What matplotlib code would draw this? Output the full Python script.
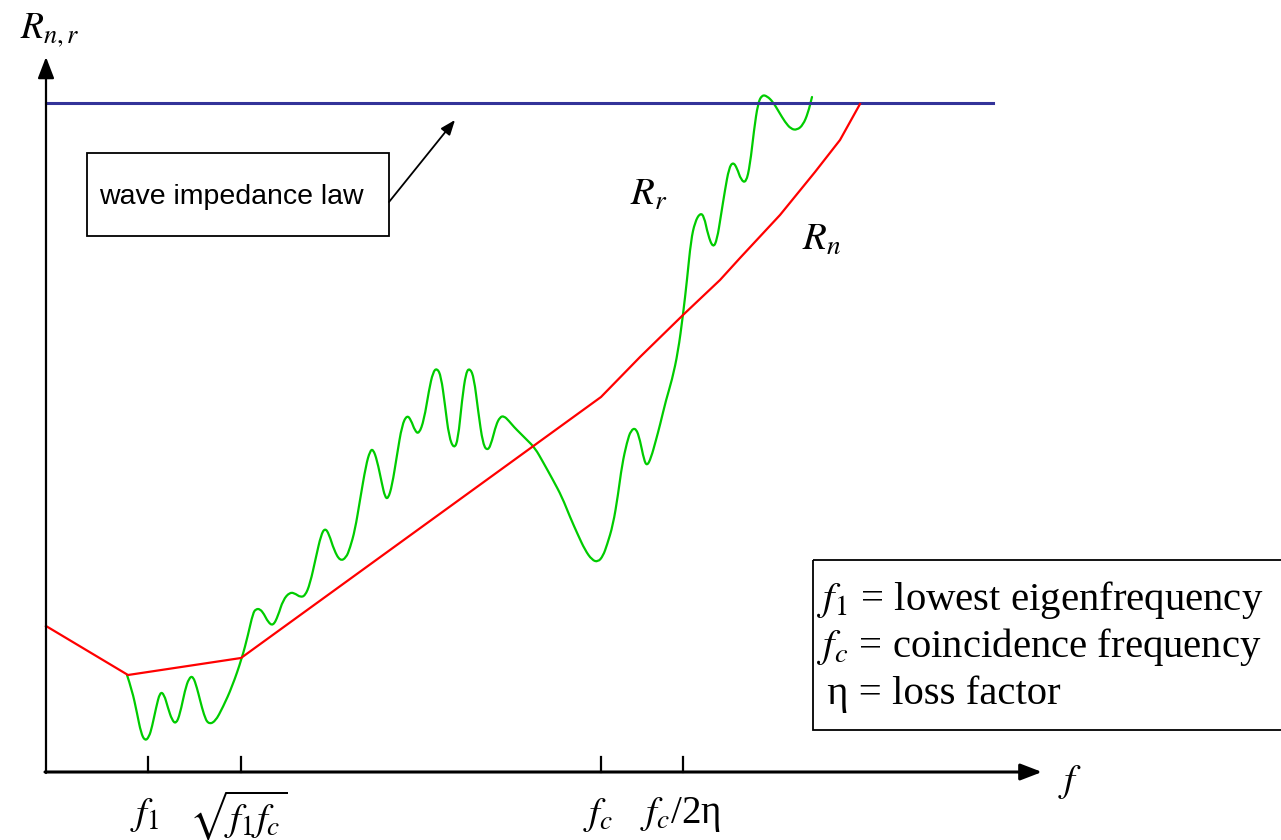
import matplotlib.pyplot as plt
from matplotlib.path import Path
from matplotlib.patches import PathPatch

plt.rcParams['mathtext.fontset'] = 'stix'
plt.rcParams['font.family'] = ['Liberation Serif', 'DejaVu Sans']

# picture coordinates (x to the right, y downward)
axis_origin = (46, 772)
x_axis_end = 1042
y_axis_end = 57
wave_level = 103
wave_x = [46, 993]

tick_x = [148, 241, 601, 683]
tick_labels = [r'$f_1$', r'$\sqrt{f_1 f_c}$', r'$f_c$', r'$f_c$/2η']

# R_n (red)
rn_x = [46, 128, 241, 601, 640, 683, 720, 740, 780, 815, 840, 860]
rn_y = [626, 675, 658, 397, 357, 315, 280, 258, 215, 172, 140, 104]

# R_r (green)
rr_x = [127, 132, 137, 141, 145, 149, 152, 156, 160, 164, 168, 172, 176, 180,
        185, 189, 193, 197, 200, 204, 208, 215, 223, 232, 242, 248, 253, 256,
        260, 264, 268, 273, 278, 283, 290, 296, 300, 305, 310, 316, 321, 325,
        329, 334, 340, 346, 350, 355, 360, 366, 370, 373, 377, 382, 385, 388,
        392, 397, 402, 407, 411, 415, 419, 424, 429, 433, 437, 441, 445, 449,
        454, 458, 462, 466, 470, 474, 478, 483, 488, 492, 496, 500, 504, 509,
        514, 520, 527, 535, 543, 553, 562, 570, 578, 585, 592, 598, 603, 607,
        613, 618, 622, 627, 631, 636, 640, 644, 647, 651, 656, 660, 666, 672,
        678, 683, 687, 691, 695, 700, 704, 708, 713, 717, 721, 725, 729, 733,
        737, 741, 746, 750, 754, 758, 762, 767, 773, 779, 785, 791, 797, 803,
        808, 812]
rr_y = [675, 690, 713, 733, 741, 737, 727, 708, 692, 694, 708, 720, 724, 714,
        690, 678, 676, 688, 700, 715, 724, 722, 707, 687, 658, 635, 613, 609,
        609, 614, 622, 626, 616, 600, 592, 594, 597, 596, 584, 557, 535, 528,
        534, 550, 561, 558, 548, 530, 500, 465, 451, 449, 460, 484, 497, 499,
        486, 455, 425, 415, 420, 431, 434, 420, 390, 372, 368, 376, 405, 437,
        449, 440, 400, 372, 368, 378, 410, 445, 451, 441, 425, 417, 416, 421,
        427, 433, 440, 448, 462, 480, 497, 517, 535, 550, 560, 562, 556, 545,
        525, 495, 465, 442, 430, 428, 440, 460, 466, 458, 440, 425, 400, 380,
        352, 315, 280, 240, 222, 213, 216, 235, 248, 240, 215, 190, 168, 162,
        168, 180, 183, 165, 130, 103, 95, 96, 102, 112, 122, 129, 130, 125,
        113, 97]

fig = plt.figure(figsize=(12.81, 8.4), dpi=100)
ax = fig.add_axes([0, 0, 1, 1])
ax.set_xlim(0, 1281)
ax.set_ylim(840, 0)
ax.axis('off')

# axes with arrows
x0, y0 = axis_origin
ax.annotate('', xy=(x_axis_end, y0), xytext=(x0 - 1, y0),
            arrowprops=dict(arrowstyle='-|>,head_length=1.3,head_width=0.5',
                            color='black', lw=2.2, shrinkA=0, shrinkB=0))
ax.annotate('', xy=(x0, y_axis_end), xytext=(x0, y0 + 1),
            arrowprops=dict(arrowstyle='-|>,head_length=1.3,head_width=0.5',
                            color='black', lw=1.6, shrinkA=0, shrinkB=0))

for tx, lab in zip(tick_x, tick_labels):
    ax.plot([tx, tx], [y0, y0 - 15], color='black', lw=1.6)
    ax.text(tx - 3, 815, lab, fontsize=28, ha='center', va='center')

ax.text(20, 30, r'$R_{n,r}$', fontsize=27, ha='left', va='center')
ax.text(1058, 782, r'$f$', fontsize=28, ha='left', va='center')

# wave impedance line
ax.plot(wave_x, [wave_level, wave_level], color='#333399', lw=2.2)

ax.plot(rn_x, rn_y, color='#ff0000', lw=1.6)

# green curve: smoothed with quadratic segments through the read points
pts = list(zip(rr_x, rr_y))
verts = [pts[0]]
codes = [Path.MOVETO]
for i in range(1, len(pts) - 1):
    mid = ((pts[i][0] + pts[i + 1][0]) / 2, (pts[i][1] + pts[i + 1][1]) / 2)
    verts += [pts[i], mid]
    codes += [Path.CURVE3, Path.CURVE3]
verts.append(pts[-1])
codes.append(Path.LINETO)
ax.add_patch(PathPatch(Path(verts, codes), fill=False, ec='#00cc00', lw=1.6,
                       capstyle='round', joinstyle='round'))

ax.text(630, 195, r'$R_r$', fontsize=28, ha='left', va='center')
ax.text(802, 240, r'$R_n$', fontsize=28, ha='left', va='center')

# wave impedance law box + arrow
ax.add_patch(plt.Rectangle((87, 153), 302, 83, fill=False, ec='black', lw=1.3))
ax.text(99, 197, 'wave impedance law', fontsize=20.5, family='Liberation Sans',
        ha='left', va='center')
ax.annotate('', xy=(455, 120), xytext=(389, 202),
            arrowprops=dict(arrowstyle='-|>,head_length=0.9,head_width=0.35',
                            color='black', lw=1.3, shrinkA=0, shrinkB=0))

# definitions box
ax.add_patch(plt.Rectangle((813, 560), 480, 170, fill=False, ec='black', lw=1.3))
defs = [r'$f_1$ = lowest eigenfrequency', r'$f_c$ = coincidence frequency',
        ' η = loss factor']
for i, d in enumerate(defs):
    ax.text(817, 600 + 47 * i, d, fontsize=29.3, ha='left', va='center')

plt.savefig('out.png', dpi=100)
